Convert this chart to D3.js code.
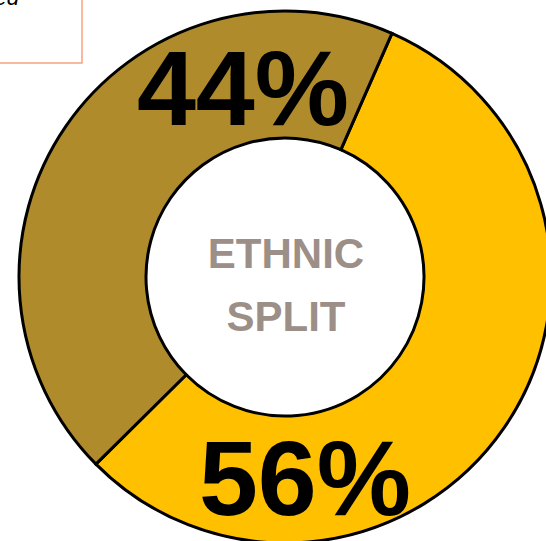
<!DOCTYPE html>
<html>
<head>
<meta charset="utf-8">
<script src="https://cdn.jsdelivr.net/npm/d3@7"></script>
<style>
  html, body { margin: 0; padding: 0; background: #fff; overflow: hidden; }
  svg { display: block; font-family: "Liberation Sans", Arial, sans-serif; }
</style>
</head>
<body>
<svg width="546" height="541"></svg>
<script>
// slice data
var groups = ["Group A", "Group B"];
var shares = [56, 44];
var colors = ["#ffc000", "#af8b2c"];
var labels = ["56%", "44%"];
var centreText = ["ETHNIC", "SPLIT"];

var svg = d3.select("svg");
var cx = 285, cy = 277;
var outerR = 266, innerR = 139;
var start = 23.7 * Math.PI / 180;

// note box in the top left corner (cut off by the frame)
svg.append("rect")
    .attr("x", -200).attr("y", -60)
    .attr("width", 282).attr("height", 123)
    .attr("fill", "#fff")
    .attr("stroke", "#f7a27f")
    .attr("stroke-width", 1.5);

svg.append("text")
    .attr("x", 19).attr("y", 5)
    .attr("text-anchor", "end")
    .attr("font-style", "italic")
    .attr("font-size", 22)
    .attr("fill", "#000")
    .text("Estimated");

var pie = d3.pie()
    .sort(null)
    .startAngle(start)
    .endAngle(start + 2 * Math.PI)
    .value(function(d) { return d; });

var arc = d3.arc()
    .innerRadius(innerR)
    .outerRadius(outerR);

var g = svg.append("g")
    .attr("transform", "translate(" + cx + "," + cy + ")");

g.selectAll("path.slice")
    .data(pie(shares))
    .enter().append("path")
    .attr("class", "slice")
    .attr("d", arc)
    .attr("fill", function(d, i) { return colors[i]; })
    .attr("stroke", "#000")
    .attr("stroke-width", 3)
    .attr("stroke-linejoin", "miter");

// percentage labels
var labelPos = [[305, 515], [243, 125]];
svg.selectAll("text.pct")
    .data(labels)
    .enter().append("text")
    .attr("class", "pct")
    .attr("x", function(d, i) { return labelPos[i][0]; })
    .attr("y", function(d, i) { return labelPos[i][1]; })
    .attr("text-anchor", "middle")
    .attr("font-weight", "bold")
    .attr("font-size", 106)
    .attr("fill", "#000")
    .text(function(d) { return d; });

// centre title
svg.selectAll("text.centre")
    .data(centreText)
    .enter().append("text")
    .attr("class", "centre")
    .attr("x", cx + 1)
    .attr("y", function(d, i) { return 268 + i * 63; })
    .attr("text-anchor", "middle")
    .attr("font-weight", "bold")
    .attr("font-size", 42)
    .attr("fill", "#9b8f87")
    .text(function(d) { return d; });
</script>
</body>
</html>
